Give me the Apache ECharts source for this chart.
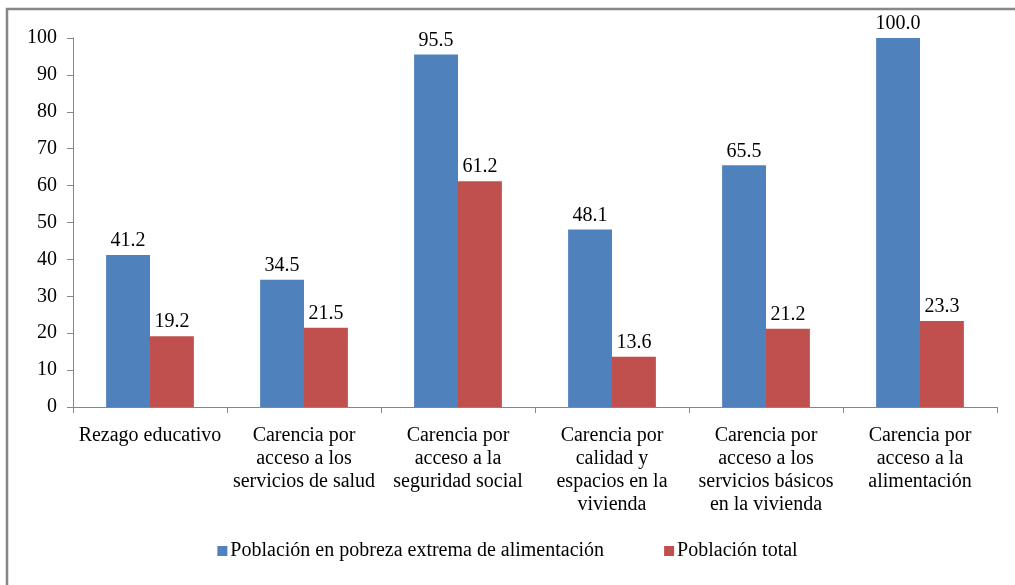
<!DOCTYPE html>
<html><head><meta charset="utf-8">
<script src="https://cdn.jsdelivr.net/npm/echarts@6/dist/echarts.min.js"></script>
<style>html,body{margin:0;padding:0;background:#fff}#c{width:1015px;height:585px}</style>
</head><body><div id="c"></div>
<script>
const categories = [
  "Rezago educativo",
  "Carencia por\nacceso a los\nservicios de salud",
  "Carencia por\nacceso a la\nseguridad social",
  "Carencia por\ncalidad y\nespacios en la\nvivienda",
  "Carencia por\nacceso a los\nservicios básicos\nen la vivienda",
  "Carencia por\nacceso a la\nalimentación"
];
const seriesNames = ["Población en pobreza extrema de alimentación", "Población total"];
const pobrezaExtrema = [41.2, 34.5, 95.5, 48.1, 65.5, 100.0];
const poblacionTotal = [19.2, 21.5, 61.2, 13.6, 21.2, 23.3];
const yTicks = [0, 10, 20, 30, 40, 50, 60, 70, 80, 90, 100];

const font = "Liberation Serif";
const chart = echarts.init(document.getElementById('c'), null, {renderer: 'canvas'});
const lbl = {show: true, position: 'top', distance: 4, color: '#000', fontFamily: font, fontSize: 20, formatter: p => p.value.toFixed(1)};
chart.setOption({
  animation: false,
  textStyle: {fontFamily: font},
  graphic: [{type: 'rect', shape: {x: 7, y: 9, width: 1030, height: 600}, style: {fill: 'none', stroke: '#878787', lineWidth: 2.5}}],
  grid: {left: 73, right: 18, top: 38, bottom: 178},
  legend: {
    bottom: 19, left: 'center', itemWidth: 10, itemHeight: 10, itemGap: 60, icon: 'rect',
    textStyle: {fontFamily: font, fontSize: 20, color: '#000', padding: [0, 0, 0, -2]},
    data: seriesNames
  },
  xAxis: {
    type: 'category', data: categories,
    axisLine: {lineStyle: {color: '#868686'}},
    axisTick: {show: true, length: 6, lineStyle: {color: '#868686'}},
    axisLabel: {color: '#000', fontFamily: font, fontSize: 20, lineHeight: 23, margin: 17, interval: 0}
  },
  yAxis: {
    type: 'value', min: yTicks[0], max: yTicks[yTicks.length - 1], interval: 10,
    axisLine: {show: true, lineStyle: {color: '#868686'}},
    axisTick: {show: true, length: 6, lineStyle: {color: '#868686'}},
    splitLine: {show: false},
    axisLabel: {color: '#000', fontFamily: font, fontSize: 20, margin: 16}
  },
  series: [
    {name: seriesNames[0], type: 'bar', data: pobrezaExtrema, itemStyle: {color: '#4F81BD'}, barGap: '0%', barCategoryGap: '43%', label: lbl},
    {name: seriesNames[1], type: 'bar', data: poblacionTotal, itemStyle: {color: '#C0504D'}, label: lbl}
  ]
});
</script></body></html>
